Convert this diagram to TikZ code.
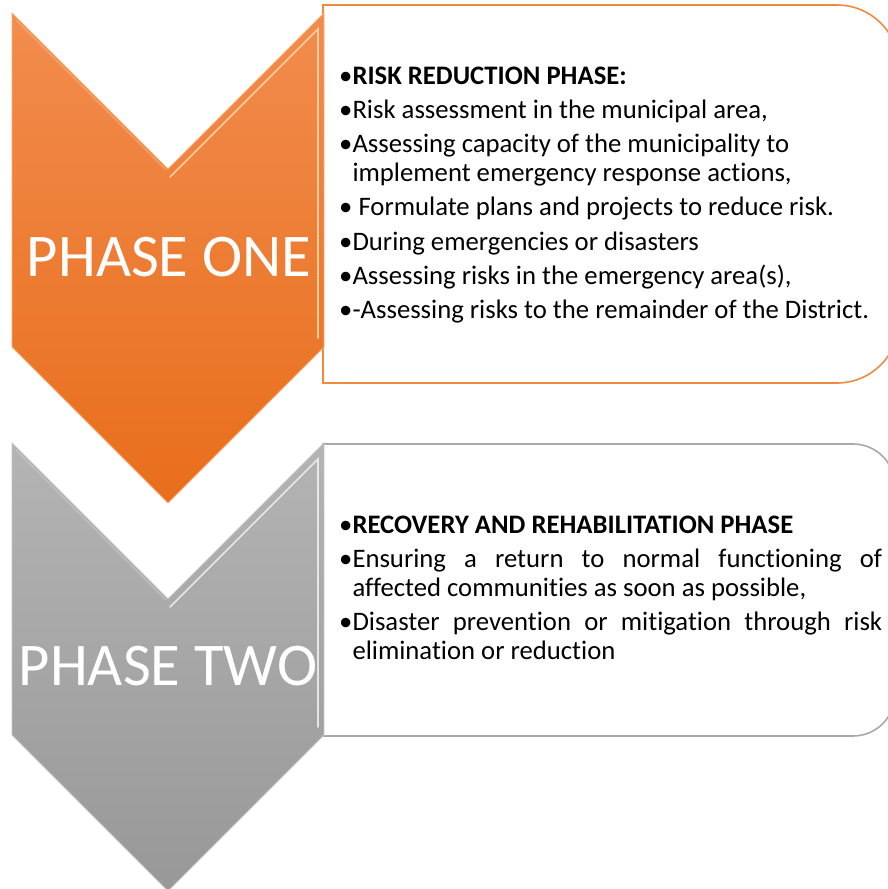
\documentclass[tikz,border=0pt]{standalone}
\usepackage{fontspec}
\setmainfont{Carlito}[Ligatures={NoCommon}]
\definecolor{orTop}{HTML}{F28C4E}
\definecolor{orBot}{HTML}{E86E1B}
\definecolor{orLine}{HTML}{F28A3E}
\definecolor{orHi}{HTML}{FFD7A8}
\definecolor{grTop}{HTML}{B4B4B4}
\definecolor{grBot}{HTML}{989898}
\definecolor{grLine}{HTML}{A9A9A9}
\definecolor{grHi}{HTML}{EDEDED}
\newlength\bulw
\newcommand\bitem[1]{\par\hangindent=\bulw\hangafter=1 •#1}
\newcommand\boxtext{\fontsize{26.7}{29}\selectfont\setlength{\parskip}{5.3pt}\setlength{\parindent}{0pt}\settowidth{\bulw}{•}\hyphenpenalty=10000\exhyphenpenalty=10000}
\tikzset{
  panel/.style={line width=1.6pt, fill=white},
  chev/.style={draw=#1Line!70!white, line width=0.8pt, top color=#1Top, bottom color=#1Bot},
  phase/.style={text=white, font=\fontsize{60.6}{61}\selectfont, inner sep=0pt, anchor=base},
  body/.style={inner sep=0pt, anchor=base west, text=black}
}
\begin{document}
\begin{tikzpicture}[x=1pt,y=-1pt]
\useasboundingbox (0,0) rectangle (888,889);
\clip (0,0) rectangle (888,889);
% panels
\draw[panel, draw=orLine] (323,5) -- (837,5) arc[start angle=90, end angle=0, radius=62pt] -- (899,321) arc[start angle=0, end angle=-90, radius=62pt] -- (323,383) -- cycle;
\draw[panel, draw=grLine] (323,444) -- (853,444) arc[start angle=90, end angle=0, radius=42pt] -- (895,694) arc[start angle=0, end angle=-90, radius=42pt] -- (323,736) -- cycle;
% chevrons
\path[chev=or] (12,13) -- (168,169) -- (324,13) -- (324,347) -- (168,503) -- (12,347) -- cycle;
\draw[orHi, opacity=.9, line width=1.6pt, line cap=round] (170,177) -- (318,29) -- (318,338);
\draw[orLine!60!white, opacity=.6, line width=1.2pt] (16,20) -- (166,170);
\path[chev=gr] (12,443) -- (168,599) -- (324,443) -- (324,735) -- (168,891) -- (12,735) -- cycle;
\draw[grHi, opacity=.9, line width=1.6pt, line cap=round] (170,607) -- (318,459) -- (318,727);
\draw[grLine!60!white, opacity=.6, line width=1.2pt] (16,450) -- (166,600);
% phase labels
\node[phase] (p1) at (169,276) {PHASE ONE};
\node[phase] (p2) at (168,685) {PHASE TWO};
% texts
\node[body] (t1) at (339,84) {\parbox[t]{560pt}{\boxtext
\bitem{\textbf{RISK REDUCTION PHASE:}}
\bitem{Risk assessment in the municipal area,}
\bitem{Assessing capacity of the municipality to\\ implement emergency response actions,}
\bitem{ Formulate plans and projects to reduce risk.}
\bitem{During emergencies or disasters}
\bitem{Assessing risks in the emergency area(s),}
\bitem{-Assessing risks to the remainder of the District.}\par}};
\node[body] (t2) at (339,533) {\parbox[t]{543pt}{\boxtext
\bitem{\textbf{RECOVERY AND REHABILITATION PHASE}}
\bitem{Ensuring a return to normal functioning of\linebreak affected communities as soon as possible,}
\bitem{Disaster prevention or mitigation through risk\linebreak elimination or reduction}\par}};
\end{tikzpicture}
\end{document}
